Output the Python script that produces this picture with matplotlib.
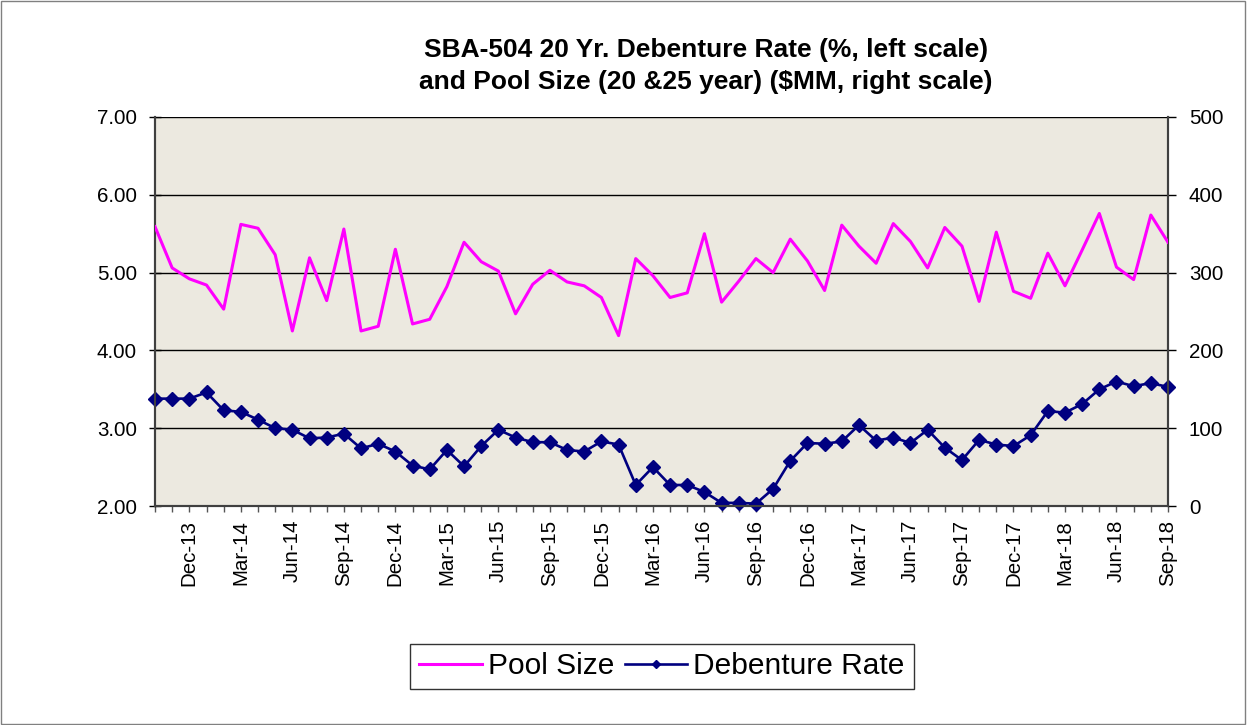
import matplotlib
matplotlib.use("Agg")
import matplotlib.pyplot as plt
from matplotlib.patches import Rectangle
import pandas as pd

plt.rcParams['font.family'] = ['Liberation Sans', 'DejaVu Sans']

months = list(pd.date_range('2013-10-01', periods=60, freq='MS').strftime('%b-%y'))

pool_size = [359, 306, 292, 284, 253, 362, 357, 323, 225, 319,
             264, 356, 225, 231, 330, 234, 240, 282, 339, 314,
             302, 247, 285, 303, 288, 283, 268, 219, 318, 296,
             268, 274, 350, 262, 289, 318, 300, 343, 315, 277,
             361, 334, 312, 363, 340, 306, 358, 334, 263, 352,
             276, 267, 325, 283, 329, 376, 307, 291, 374, 339]

debenture_rate = [3.38, 3.38, 3.38, 3.46, 3.23, 3.21, 3.11, 3.00, 2.98, 2.87,
                  2.88, 2.93, 2.74, 2.80, 2.70, 2.52, 2.47, 2.72, 2.51, 2.77,
                  2.98, 2.88, 2.82, 2.82, 2.72, 2.70, 2.83, 2.79, 2.27, 2.50,
                  2.27, 2.27, 2.18, 2.04, 2.04, 2.03, 2.22, 2.58, 2.81, 2.80,
                  2.83, 3.04, 2.84, 2.88, 2.81, 2.98, 2.75, 2.59, 2.85, 2.79,
                  2.77, 2.91, 3.22, 3.20, 3.31, 3.50, 3.60, 3.54, 3.58, 3.53]

left_ticks = [2, 3, 4, 5, 6, 7]
right_ticks = [0, 100, 200, 300, 400, 500]

W, H = 1247, 725
fig = plt.figure(figsize=(W / 100, H / 100), dpi=100)
fig.patch.set_facecolor('white')
fig.add_artist(Rectangle((0.0005, 0.001), 0.998, 0.997, transform=fig.transFigure,
                         fill=False, edgecolor='#808080', linewidth=1.0))

ax = fig.add_axes([155 / W, 1 - 506 / H, (1168 - 155) / W, (506 - 117) / H])
ax.set_facecolor('#ECE9E0')
ax2 = ax.twinx()

x = list(range(len(months)))
ln_rate, = ax.plot(x, debenture_rate, color='#000080', linewidth=1.9,
                   marker='D', markersize=7, markeredgecolor='#000080',
                   markerfacecolor='#000080', clip_on=False, zorder=5)
ln_pool, = ax2.plot(x, pool_size, color='#FF00FF', linewidth=2.2, zorder=4)

ax.set_xlim(0, len(months) - 1)
ax.set_ylim(2, 7)
ax2.set_ylim(0, 500)

ax.set_yticks(left_ticks)
ax.set_yticklabels([f'{v:.2f}' for v in left_ticks], fontsize=14.8)
ax2.set_yticks(right_ticks)
ax2.set_yticklabels([str(v) for v in right_ticks], fontsize=14.8)

ax.set_xticks(x)
ax.set_xticklabels([m if (i % 3 == 2) else '' for i, m in enumerate(months)],
                   rotation=90, fontsize=14.8)

ax.grid(axis='y', color='black', linewidth=1.0)
ax.set_axisbelow(True)

ax.tick_params(axis='x', direction='out', length=4, width=1, color='#555555', pad=6)
ax.tick_params(axis='y', direction='inout', length=8, width=1, color='black', pad=9)
ax2.tick_params(axis='y', direction='out', length=6, width=1, color='black', pad=9)

for a in (ax, ax2):
    for s in ['left', 'right', 'bottom']:
        a.spines[s].set_color('#404040')
        a.spines[s].set_linewidth(1.5)
    a.spines['top'].set_visible(False)

fig.text(706 / W, 1 - 66 / H,
         'SBA-504 20 Yr. Debenture Rate (%, left scale)\nand Pool Size (20 &25 year) ($MM, right scale)',
         ha='center', va='center', fontsize=19, fontweight='bold', linespacing=1.38)

leg = fig.legend([ln_pool, ln_rate], ['Pool Size', 'Debenture Rate'],
                 loc='center', bbox_to_anchor=(662 / W, 1 - 666.5 / H),
                 ncol=2, fontsize=21.5, frameon=True, fancybox=False,
                 handlelength=2.1, handletextpad=0.2, columnspacing=0.35,
                 borderpad=0.3, borderaxespad=0, markerscale=0.6)
leg.get_frame().set_edgecolor('black')
leg.get_frame().set_linewidth(1.0)

fig.savefig('out.png', dpi=100)
